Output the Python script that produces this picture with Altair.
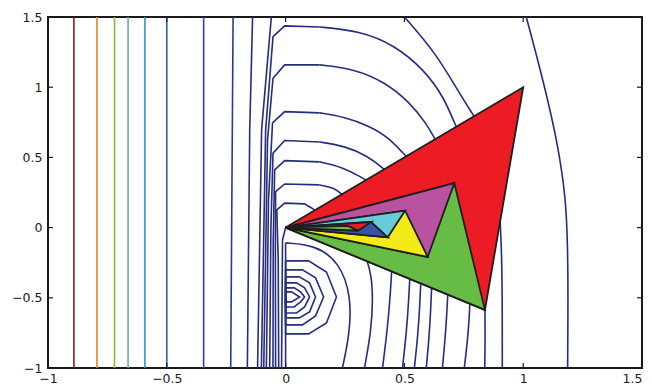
import altair as alt
import pandas as pd

# ---------------- data ----------------
TICKS = [-1.0, -0.5, 0.0, 0.5, 1.0, 1.5]

# straight vertical contour lines on the left (x position) and their colours
VERT_X = [-0.891, -0.794, -0.720, -0.663, -0.592, -0.500, -0.345]
VERT_COLORS = ["#8c1a1d", "#d98a22", "#8fb73e", "#5db3a3", "#3390c6", "#3558ae", "#2d449d"]

NAVY = "#262d80"

# digitised contour pieces (x, y); legs/kinks are straight, arcs are smooth
LEAN_A = [(-0.221, 1.5), (-0.231, -1.0)]
LEAN_B = [(-0.139, 1.5), (-0.151, 0.695), (-0.161, -1.0)]
LEAN_C = [(-0.060, 1.5), (-0.101, 0.696), (-0.118, -1.0)]

ARC0 = [(1.013, 1.5), (1.080, 1.075), (1.143, 0.625), (1.181, 0.197), (1.187, -0.16), (1.189, -0.445), (1.187, -1.0)]
ARC1_TOP = [(0.5, 1.5), (0.633, 1.242), (0.731, 0.957), (0.794, 0.791), (0.805, 0.76)]
ARC1_LOW = [(0.900, 0.12), (0.908, -0.10), (0.912, -0.444), (0.912, -1.0)]

ARC2_LEG = [(-0.102, -1.0), (-0.084, 0.696), (-0.053, 1.360), (-0.004, 1.437), (0.143, 1.429)]
ARC2_TOP = [(0.143, 1.429), (0.311, 1.401), (0.458, 1.301), (0.584, 1.123), (0.668, 0.924), (0.717, 0.719), (0.735, 0.66)]
ARC2_LOW = [(0.839, -0.56), (0.840, -0.80), (0.838, -1.0)]

ARC3_LEG = [(-0.092, -1.0), (-0.076, 0.625), (-0.053, 1.064), (-0.004, 1.159), (0.143, 1.159)]
ARC3_TOP = [(0.143, 1.159), (0.290, 1.130), (0.416, 1.038), (0.521, 0.895), (0.597, 0.731), (0.626, 0.637), (0.64, 0.60)]
ARC3_LOW = [(0.776, -0.52), (0.773, -0.64), (0.766, -0.80), (0.752, -1.0)]

ARC4_LEG = [(-0.081, -1.0), (-0.072, 0.197), (-0.055, 0.746), (-0.004, 0.826), (0.143, 0.817)]
ARC4_TOP = [(0.143, 0.817), (0.248, 0.788), (0.353, 0.724), (0.437, 0.637), (0.5, 0.518), (0.52, 0.49)]
ARC4_LOW = [(0.683, -0.46), (0.679, -0.60), (0.672, -0.78), (0.660, -1.0)]

ARC5_LEG = [(-0.067, -1.0), (-0.062, -0.016), (-0.053, 0.530), (-0.004, 0.620), (0.143, 0.610)]
ARC5_TOP = [(0.143, 0.610), (0.248, 0.582), (0.345, 0.511), (0.408, 0.425), (0.43, 0.39)]
ARC5_LOW = [(0.615, -0.41), (0.611, -0.58), (0.604, -0.78), (0.592, -1.0)]

ARC6_LEG = [(-0.053, -1.0), (-0.052, -0.088), (-0.046, 0.411), (-0.004, 0.477), (0.143, 0.468)]
ARC6_TOP = [(0.143, 0.468), (0.239, 0.432), (0.324, 0.354), (0.345, 0.33)]
ARC6_LOW = [(0.569, -0.38), (0.565, -0.55), (0.557, -0.76), (0.542, -1.0)]

ARC7_LEG = [(-0.042, -1.0), (-0.043, -0.159), (-0.042, 0.256), (-0.004, 0.311), (0.143, 0.304)]
ARC7_TOP = [(0.143, 0.304), (0.206, 0.283), (0.239, 0.233), (0.255, 0.215)]
ARC7_LOW = [(0.523, -0.35), (0.518, -0.52), (0.509, -0.74), (0.492, -1.0)]

ARC8_LEG = [(-0.029, -1.0), (-0.031, -0.230), (-0.037, 0.126), (-0.004, 0.174), (0.080, 0.169),
            (0.109, 0.140), (0.13, 0.115)]
ARC8_LOW = [(0.447, -0.29), (0.441, -0.47), (0.430, -0.70), (0.408, -1.0)]

ARC9_LEG = [(-0.017, -1.0), (-0.013, -0.088), (0.0, -0.002)]
ARC9_LOW = [(0.340, -0.22), (0.360, -0.33), (0.368, -0.50), (0.360, -0.74), (0.332, -1.0)]

ARC10_LEG = [(0.0, -1.0), (0.0, -0.109)]
ARC10_TOP = [(0.0, -0.109), (0.122, -0.123), (0.227, -0.244), (0.277, -0.494), (0.269, -0.764), (0.239, -1.0)]

D1 = [(0, -0.237), (0.097, -0.237), (0.172, -0.316), (0.214, -0.494), (0.172, -0.679), (0.097, -0.757), (0, -0.757), (0, -0.237)]
D2 = [(0, -0.301), (0.071, -0.301), (0.126, -0.358), (0.160, -0.494), (0.126, -0.629), (0.071, -0.693), (0, -0.693), (0, -0.301)]
D3 = [(0, -0.351), (0.057, -0.351), (0.101, -0.394), (0.126, -0.494), (0.101, -0.600), (0.057, -0.643), (0, -0.643), (0, -0.351)]
D4 = [(0, -0.394), (0.046, -0.394), (0.080, -0.429), (0.101, -0.494), (0.080, -0.565), (0.046, -0.608), (0, -0.608), (0, -0.394)]
D5 = [(0, -0.429), (0.036, -0.429), (0.063, -0.458), (0.080, -0.494), (0.063, -0.529), (0.036, -0.565), (0, -0.565), (0, -0.429)]
D6 = [(0, -0.458), (0.025, -0.458), (0.059, -0.494), (0.025, -0.529), (0, -0.529), (0, -0.458)]

SMOOTH_PIECES = [ARC0, ARC1_TOP, ARC1_LOW, ARC2_TOP, ARC2_LOW, ARC3_TOP, ARC3_LOW, ARC4_TOP, ARC4_LOW,
                 ARC5_TOP, ARC5_LOW, ARC6_TOP, ARC6_LOW, ARC7_TOP, ARC7_LOW, ARC8_LOW, ARC9_LOW, ARC10_TOP]
STRAIGHT_PIECES = [(LEAN_A, "#2a3b95"), (LEAN_B, NAVY), (LEAN_C, NAVY),
                   (ARC2_LEG, NAVY), (ARC3_LEG, NAVY), (ARC4_LEG, NAVY), (ARC5_LEG, NAVY),
                   (ARC6_LEG, NAVY), (ARC7_LEG, NAVY), (ARC8_LEG, NAVY), (ARC9_LEG, NAVY), (ARC10_LEG, NAVY),
                   (D1, NAVY), (D2, NAVY), (D3, NAVY), (D4, NAVY), (D5, NAVY), (D6, NAVY)]

# iterate points: each triangle is (origin, z_k, z_k+1)
TRI_VERTS = [(1.0, 1.0), (0.839, -0.586), (0.710, 0.317), (0.598, -0.209), (0.503, 0.121),
             (0.430, -0.069), (0.360, 0.040), (0.306, -0.022), (0.262, 0.012)]
TRI_COLORS = ["#ed1c24", "#67bc45", "#b9529f", "#f3eb17", "#67cbd8", "#3953a4", "#ed1c24", "#67bc45"]

# ---------------- tables ----------------
rows, names, colors = [], [], []
for k, xv in enumerate(VERT_X):
    nm = f"v{k}"
    names.append(nm); colors.append(VERT_COLORS[k])
    rows += [{"cid": nm, "i": 0, "x": xv, "y": -1.0}, {"cid": nm, "i": 1, "x": xv, "y": 1.5}]
for k, (pts, col) in enumerate(STRAIGHT_PIECES):
    nm = f"s{k}"
    names.append(nm); colors.append(col)
    for i, (xv, yv) in enumerate(pts):
        rows.append({"cid": nm, "i": i, "x": xv, "y": yv})
straight = pd.DataFrame(rows)

srows = []
for k, pts in enumerate(SMOOTH_PIECES):
    for i, (xv, yv) in enumerate(pts):
        srows.append({"cid": f"c{k}", "i": i, "x": xv, "y": yv})
smooth = pd.DataFrame(srows)

xs = alt.Scale(domain=[-1, 1.5], nice=False, zero=False)
ys = alt.Scale(domain=[-1, 1.5], nice=False, zero=False)
common_axis = dict(values=TICKS, format=".1~f", ticks=False, domain=False, grid=False, title=None,
                   labelFont="DejaVu Sans", labelFontSize=12.5, labelColor="#1a1a1a")
xaxis = alt.Axis(labelFlush=False, labelPadding=4,
                 labelAlign={"condition": {"test": "datum.value >= 1.5", "value": "right"}, "value": "center"},
                 **common_axis)
yaxis = alt.Axis(labelPadding=6, **common_axis)
X = alt.X("x:Q", scale=xs, axis=xaxis)
Y = alt.Y("y:Q", scale=ys, axis=yaxis)

layers = [
    alt.Chart(straight).mark_line(strokeWidth=1.6, clip=True).encode(
        x=X, y=Y, detail="cid:N", order="i:Q",
        color=alt.Color("cid:N", scale=alt.Scale(domain=names, range=colors), legend=None)),
    alt.Chart(smooth).mark_line(strokeWidth=1.6, clip=True, color=NAVY, interpolate="basis").encode(
        x=X, y=Y, detail="cid:N", order="i:Q"),
]

for k in range(len(TRI_VERTS) - 1):
    A, B = TRI_VERTS[k], TRI_VERTS[k + 1]
    v1, v2 = sorted([A, B], key=lambda p: p[0])
    area_df = pd.DataFrame([
        {"x": 0.0, "y": 0.0, "y2": 0.0},
        {"x": v1[0], "y": v1[1], "y2": v2[1] * v1[0] / v2[0]},
        {"x": v2[0], "y": v2[1], "y2": v2[1]},
    ])
    outline_df = pd.DataFrame([
        {"i": 0, "x": 0.0, "y": 0.0}, {"i": 1, "x": A[0], "y": A[1]},
        {"i": 2, "x": B[0], "y": B[1]}, {"i": 3, "x": 0.0, "y": 0.0},
    ])
    layers.append(alt.Chart(area_df).mark_area(color=TRI_COLORS[k], opacity=1, clip=True).encode(
        x=X, y=Y, y2="y2:Q"))
    layers.append(alt.Chart(outline_df).mark_line(color="#1e1e1e", strokeWidth=1.8, strokeJoin="miter",
                                                  clip=True).encode(x=X, y=Y, order="i:Q"))

# inward tick marks on all four sides
tick_df = pd.DataFrame({"x": TICKS, "y": TICKS})
TL = 5
layers.append(alt.Chart(tick_df).mark_rule(color="#1a1a1a", strokeWidth=1.2).encode(
    x=X, y=alt.value(351), y2=alt.value(351 - TL)))
layers.append(alt.Chart(tick_df).mark_rule(color="#1a1a1a", strokeWidth=1.2).encode(
    x=X, y=alt.value(0), y2=alt.value(TL)))
layers.append(alt.Chart(tick_df).mark_rule(color="#1a1a1a", strokeWidth=1.2).encode(
    y=Y, x=alt.value(0), x2=alt.value(TL)))
layers.append(alt.Chart(tick_df).mark_rule(color="#1a1a1a", strokeWidth=1.2).encode(
    y=Y, x=alt.value(594), x2=alt.value(594 - TL)))

chart = alt.layer(*layers).properties(
    width=594, height=351,
    padding={"left": 40, "top": 9, "right": 2, "bottom": 17},
    autosize=alt.AutoSizeParams(type="none"),
    background="white",
).configure_view(stroke="#1a1a1a", strokeWidth=2)

chart.save("out.html", embed_options={"renderer": "svg", "actions": False})
